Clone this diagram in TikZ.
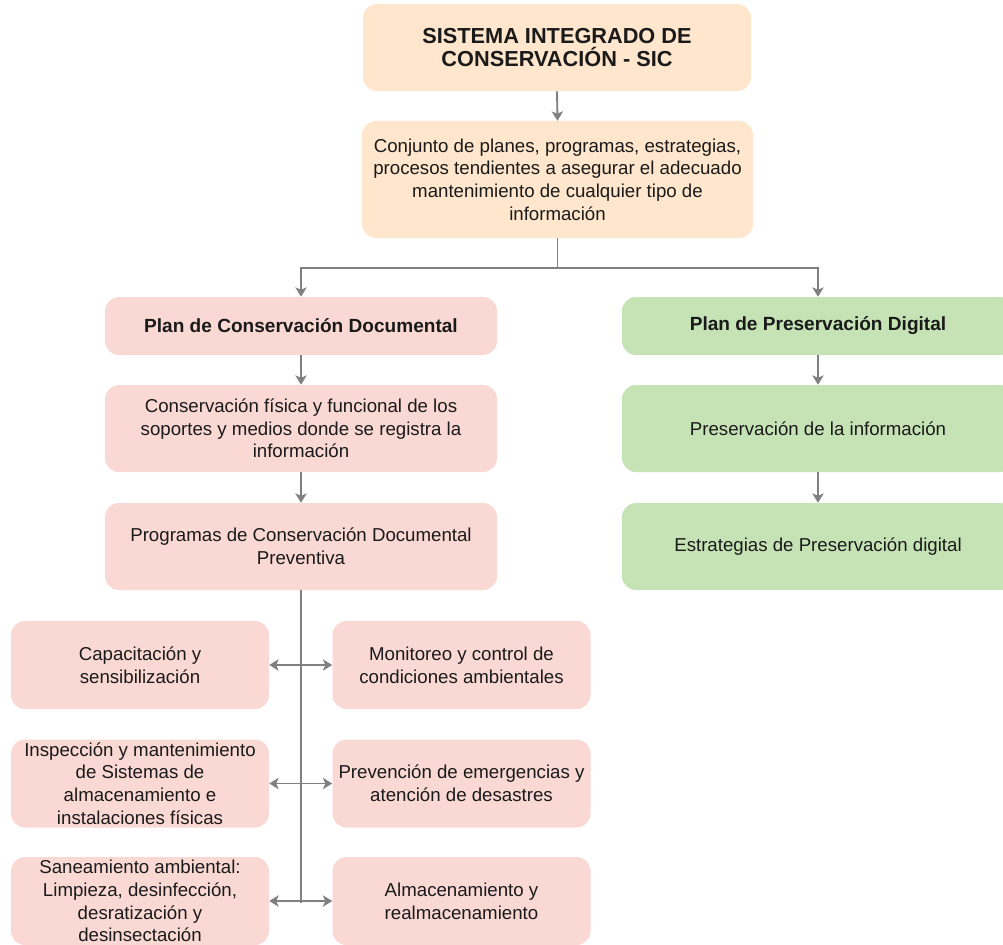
\documentclass[tikz,border=0pt]{standalone}
\usepackage{fontspec}
\setmainfont{Liberation Sans}
\usetikzlibrary{arrows.meta}
\definecolor{cpeach}{HTML}{FFE6CC}
\definecolor{cpink}{HTML}{FAD9D5}
\definecolor{cgreen}{HTML}{C6E3B6}
\definecolor{cline}{HTML}{808080}
\definecolor{ctext}{HTML}{1A1A1A}
\begin{document}
\begin{tikzpicture}[x=0.75pt,y=-0.75pt,
  box/.style={rounded corners=10.5pt, inner sep=0pt, align=center, text=ctext,
    font=\fontsize{14}{17}\selectfont},
  bigbox/.style={box, minimum width=294pt, minimum height=65.25pt},
  planbox/.style={box, minimum width=294pt, minimum height=43.5pt,
    font=\fontsize{14.3}{17}\selectfont\bfseries},
  smallbox/.style={box, fill=cpink, minimum width=193.5pt, minimum height=66pt},
  arr/.style={draw=cline, line width=1.4pt, -{Stealth[length=7pt,width=8.5pt,inset=1.8pt]}},
  arrtwo/.style={draw=cline, line width=1.4pt, {Stealth[length=7pt,width=8.5pt,inset=1.8pt]}-{Stealth[length=7pt,width=8.5pt,inset=1.8pt]}},
  plain/.style={draw=cline, line width=1.4pt}
]
\useasboundingbox (0,0) rectangle (1003,945);
\clip (0,0) rectangle (1003,945);
\fill[white] (0,0) rectangle (1003,945);

\node[box, fill=cpeach, minimum width=291pt, minimum height=65.25pt,
  font=\fontsize{16.3}{17.5}\selectfont\bfseries] (title) at (557,47.5)
  {SISTEMA INTEGRADO DE\\CONSERVACIÓN - SIC};
\node[box, fill=cpeach, minimum width=293.25pt, minimum height=87.75pt] (desc) at (557.5,179.5)
  {Conjunto de planes, programas, estrategias,\\procesos tendientes a asegurar el adecuado\\mantenimiento de cualquier tipo de\\información};

\node[planbox, fill=cpink] (pcd) at (301,326) {Plan de Conservación Documental};
\node[planbox, fill=cgreen] (ppd) at (818,326) {Plan de Preservación Digital};

\node[bigbox, fill=cpink] (cf) at (301,428.5)
  {Conservación física y funcional de los\\soportes y medios donde se registra la\\información};
\node[bigbox, fill=cpink] (prog) at (301,546.5)
  {Programas de Conservación Documental\\Preventiva};
\node[bigbox, fill=cgreen] (pi) at (818,428.5) {Preservación de la información};
\node[bigbox, fill=cgreen] (ep) at (818,546.5) {Estrategias de Preservación digital};

\node[smallbox] (cap) at (140,665) {Capacitación y\\sensibilización};
\node[smallbox] (mon) at (461.5,665) {Monitoreo y control de\\condiciones ambientales};
\node[smallbox] (insp) at (140,783.5) {Inspección y mantenimiento\\de Sistemas de\\almacenamiento e\\instalaciones físicas};
\node[smallbox] (prev) at (461.5,783.5) {Prevención de emergencias y\\atención de desastres};
\node[smallbox] (san) at (140,901) {Saneamiento ambiental:\\Limpieza, desinfección,\\desratización y\\desinsectación};
\node[smallbox] (alm) at (461.5,901) {Almacenamiento y\\realmacenamiento};

\coordinate (split) at (557.5,268);
\coordinate (vend) at (301,903);

\draw[arr] (title.south) -- (desc.north);
\draw[arr] (desc.south) -- (split) -| (pcd.north);
\draw[arr] (split) -| (ppd.north);
\draw[arr] (pcd) -- (cf);
\draw[arr] (cf) -- (prog);
\draw[arr] (ppd) -- (pi);
\draw[arr] (pi) -- (ep);
\draw[plain] (prog.south) -- (vend);
\draw[arrtwo] (cap.east) -- (mon.west);
\draw[arrtwo] (insp.east) -- (prev.west);
\draw[arrtwo] (san.east) -- (alm.west);
\end{tikzpicture}
\end{document}
